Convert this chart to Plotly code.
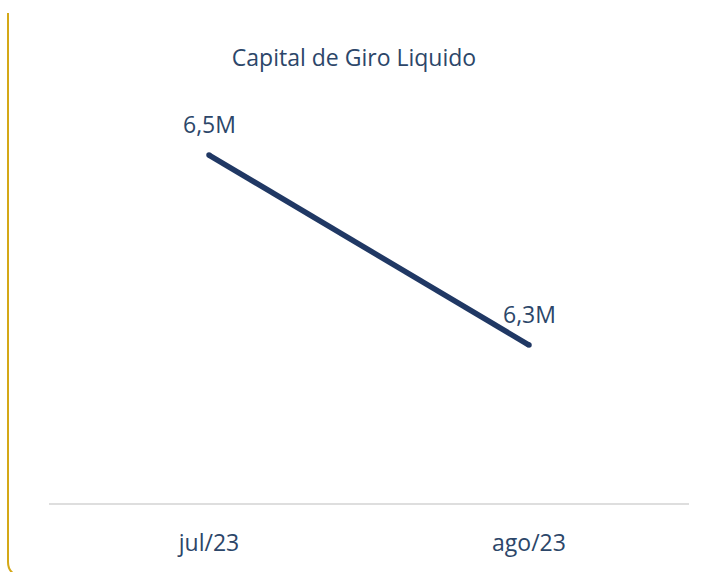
import plotly.graph_objects as go

# Capital de giro líquido por mês (em milhões)
meses = ["jul/23", "ago/23"]
valores = [6.5, 6.3]
rotulos = [f"{v:.1f}M".replace(".", ",") for v in valores]

W, H = 704, 572
ML, MR, MT, MB = 49, 15, 100, 69

TEXT = "#2c4669"
LINE = "#203864"
GOLD = "#d4a817"
FONT = "Open Sans"

fig = go.Figure()
fig.add_trace(go.Scatter(
    x=meses, y=valores, mode="lines+markers",
    line=dict(color=LINE, width=5.5),
    marker=dict(color=LINE, size=5.5),
    hoverinfo="skip", showlegend=False,
))

for m, v, t in zip(meses, valores, rotulos):
    fig.add_annotation(x=m, y=v, text=t, showarrow=False, yshift=31,
                       font=dict(family=FONT, size=23, color=TEXT))

# borda dourada à esquerda com canto inferior arredondado (coordenadas em pixels -> paper)
pw, ph = W - ML - MR, H - MT - MB
def px(x):
    return (x - ML) / pw
def py(y):
    return (H - MB - y) / ph

fig.add_shape(type="path", xref="paper", yref="paper",
              path=(f"M {px(8)},{py(13)} L {px(8)},{py(562)} "
                    f"Q {px(8)},{py(570)} {px(14)},{py(574)}"),
              line=dict(color=GOLD, width=2))

fig.update_layout(
    width=W, height=H,
    margin=dict(l=ML, r=MR, t=MT, b=MB),
    paper_bgcolor="white", plot_bgcolor="white",
    title=dict(text="Capital de Giro Liquido", x=354 / W, xanchor="center",
               y=1 - 58 / H, yanchor="middle",
               font=dict(family=FONT, size=23, color=TEXT)),
    xaxis=dict(type="category", range=[-0.5, 1.5], showgrid=False, zeroline=False,
               showline=True, linecolor="#dedede", linewidth=2,
               ticks="outside", ticklen=18, tickcolor="rgba(0,0,0,0)",
               tickfont=dict(family=FONT, size=23, color=TEXT)),
    yaxis=dict(range=[6.1337, 6.558], visible=False, showgrid=False, zeroline=False),
)

fig.write_html("out.html")
